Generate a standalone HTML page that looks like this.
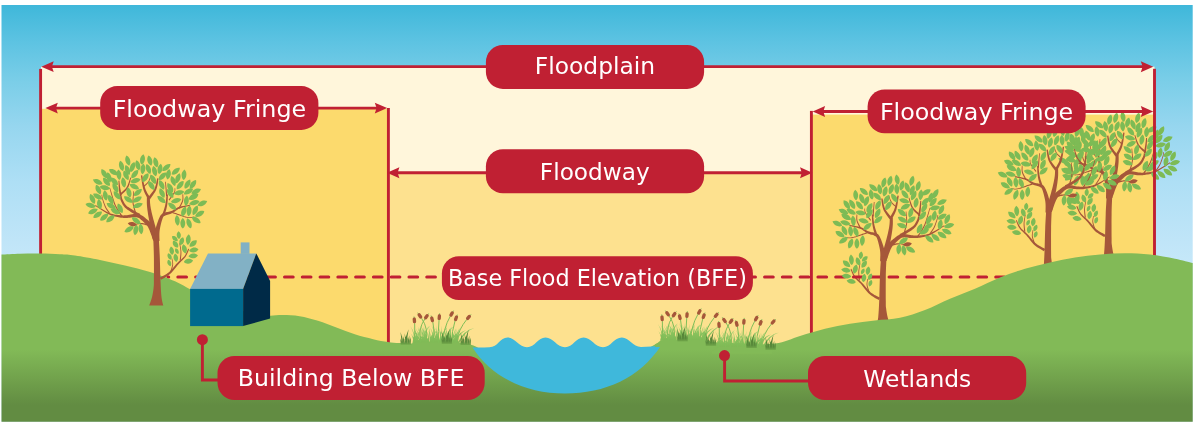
<!DOCTYPE html>
<html lang="en">
<head>
<meta charset="utf-8">
<title>Floodplain diagram</title>
<style>
html,body{margin:0;padding:0;background:#fff;}
body{width:1200px;height:424px;overflow:hidden;}
svg{display:block;}
.labels{filter:opacity(1);}
</style>
</head>
<body>
<svg width="1200" height="424" viewBox="0 0 1200 424">
<defs>
<linearGradient id="sky" x1="0" y1="5" x2="0" y2="265" gradientUnits="userSpaceOnUse">
<stop offset="0.0000" stop-color="#3fb7da"/>
<stop offset="0.0192" stop-color="#43b9db"/>
<stop offset="0.1423" stop-color="#5dc3e2"/>
<stop offset="0.2962" stop-color="#7bcee8"/>
<stop offset="0.4654" stop-color="#96d6ef"/>
<stop offset="0.6808" stop-color="#aedff5"/>
<stop offset="0.9115" stop-color="#c0e5f8"/>
<stop offset="1.0000" stop-color="#c6e8f9"/>
</linearGradient>
<linearGradient id="grass" x1="0" y1="340" x2="0" y2="405" gradientUnits="userSpaceOnUse">
<stop offset="0" stop-color="#82ba57"/>
<stop offset="0.15" stop-color="#82ba57"/>
<stop offset="1" stop-color="#628c42"/>
</linearGradient>
<path id="lf" d="M0,-5.3 C2.1,-3.4 2.7,-1 2.3,1.2 C2,3 1.2,4.4 0,5.3 C-1.2,4.4 -2,3 -2.3,1.2 C-2.7,-1 -2.1,-3.4 0,-5.3 Z"/>
<g id="treeSub" fill="#a5573a">
<path d="M161.06,279.79 L161.75,279.37 L162.69,278.84 L163.82,278.20 L165.09,277.47 L166.44,276.66 L167.79,275.77 L169.11,274.83 L170.32,273.83 L171.44,272.74 L172.53,271.55 L173.59,270.29 L174.62,268.99 L175.62,267.69 L176.60,266.43 L177.56,265.24 L178.49,264.15 L179.41,263.16 L180.34,262.23 L181.27,261.34 L182.19,260.47 L183.08,259.61 L183.93,258.74 L184.74,257.84 L185.47,256.89 L186.13,255.85 L186.74,254.73 L187.29,253.59 L187.78,252.46 L188.22,251.39 L188.59,250.43 L188.91,249.63 L189.16,249.04 L188.29,248.65 L188.01,249.25 L187.66,250.04 L187.25,250.98 L186.78,252.01 L186.26,253.10 L185.69,254.18 L185.08,255.20 L184.44,256.13 L183.73,256.98 L182.95,257.79 L182.11,258.59 L181.20,259.40 L180.25,260.23 L179.27,261.10 L178.27,262.02 L177.27,263.02 L176.26,264.12 L175.23,265.30 L174.20,266.54 L173.15,267.79 L172.09,269.02 L171.03,270.19 L169.97,271.27 L168.92,272.21 L167.80,273.06 L166.55,273.89 L165.24,274.68 L163.92,275.41 L162.66,276.07 L161.51,276.66 L160.53,277.17 L159.79,277.57 Z"/>
<path d="M180.78,260.34 L180.84,259.69 L180.94,258.82 L181.05,257.78 L181.17,256.62 L181.28,255.39 L181.36,254.14 L181.40,252.92 L181.38,251.78 L181.29,250.63 L181.13,249.42 L180.93,248.17 L180.71,246.95 L180.48,245.80 L180.27,244.76 L180.09,243.90 L179.97,243.25 L179.33,243.36 L179.43,244.02 L179.59,244.89 L179.77,245.93 L179.97,247.08 L180.16,248.30 L180.33,249.52 L180.45,250.71 L180.51,251.81 L180.49,252.90 L180.42,254.08 L180.31,255.31 L180.17,256.51 L180.02,257.66 L179.88,258.69 L179.77,259.57 L179.69,260.23 Z"/>
<path d="M171.09,272.24 L171.26,271.67 L171.51,270.91 L171.81,269.98 L172.14,268.96 L172.46,267.88 L172.75,266.80 L172.98,265.76 L173.11,264.81 L173.14,263.90 L173.09,262.98 L172.98,262.06 L172.83,261.18 L172.67,260.36 L172.51,259.64 L172.38,259.04 L172.30,258.58 L171.66,258.68 L171.73,259.16 L171.84,259.77 L171.97,260.50 L172.10,261.30 L172.22,262.16 L172.30,263.03 L172.32,263.90 L172.27,264.72 L172.11,265.59 L171.86,266.57 L171.55,267.60 L171.20,268.65 L170.85,269.65 L170.52,270.56 L170.24,271.33 L170.04,271.91 Z"/>
</g>
<g id="treeMain">
<g fill="#a5573a">
<path d="M158.92,239.32 L158.67,238.41 L158.33,237.21 L157.93,235.78 L157.49,234.18 L157.02,232.49 L156.54,230.75 L156.07,229.05 L155.63,227.43 L155.19,225.84 L154.73,224.20 L154.26,222.53 L153.79,220.86 L153.34,219.21 L152.91,217.60 L152.51,216.06 L152.15,214.60 L151.83,213.22 L151.54,211.89 L151.26,210.62 L151.02,209.39 L150.79,208.20 L150.59,207.04 L150.42,205.92 L150.27,204.84 L150.15,203.76 L150.06,202.65 L150.00,201.54 L149.96,200.46 L149.94,199.46 L149.92,198.56 L149.91,197.78 L149.90,197.19 L146.90,197.21 L146.90,197.79 L146.88,198.54 L146.86,199.45 L146.84,200.49 L146.83,201.60 L146.84,202.78 L146.87,203.98 L146.93,205.16 L147.03,206.32 L147.14,207.51 L147.28,208.72 L147.43,209.96 L147.61,211.25 L147.80,212.58 L148.01,213.96 L148.25,215.40 L148.51,216.92 L148.80,218.52 L149.12,220.19 L149.46,221.89 L149.80,223.60 L150.14,225.30 L150.46,226.96 L150.77,228.57 L151.09,230.21 L151.42,231.95 L151.76,233.71 L152.09,235.44 L152.39,237.07 L152.67,238.53 L152.90,239.75 L153.08,240.68 Z"/>
<path d="M150.15,197.72 L149.75,197.01 L149.20,196.11 L148.55,195.07 L147.85,193.90 L147.13,192.64 L146.43,191.31 L145.79,189.96 L145.25,188.60 L144.77,187.08 L144.30,185.30 L143.85,183.37 L143.43,181.40 L143.05,179.50 L142.71,177.77 L142.42,176.31 L142.20,175.24 L140.92,175.47 L141.08,176.54 L141.29,178.01 L141.53,179.76 L141.81,181.69 L142.12,183.70 L142.47,185.70 L142.86,187.57 L143.29,189.23 L143.80,190.76 L144.40,192.25 L145.06,193.70 L145.74,195.06 L146.40,196.30 L146.99,197.39 L147.47,198.29 L147.82,198.98 Z"/>
<path d="M150.05,199.13 L150.55,198.41 L151.25,197.46 L152.09,196.30 L153.02,194.99 L153.97,193.60 L154.89,192.16 L155.71,190.71 L156.37,189.31 L156.87,187.87 L157.27,186.32 L157.59,184.73 L157.84,183.16 L158.04,181.68 L158.20,180.35 L158.34,179.24 L158.47,178.42 L157.19,178.18 L157.01,179.02 L156.80,180.13 L156.56,181.44 L156.27,182.88 L155.94,184.38 L155.55,185.87 L155.09,187.28 L154.58,188.52 L153.92,189.72 L153.09,191.00 L152.14,192.31 L151.14,193.60 L150.16,194.81 L149.25,195.91 L148.48,196.85 L147.92,197.56 Z"/>
<path d="M144.06,186.96 L144.42,186.60 L144.93,186.13 L145.55,185.57 L146.23,184.93 L146.93,184.25 L147.61,183.53 L148.23,182.80 L148.76,182.08 L149.19,181.32 L149.58,180.47 L149.92,179.60 L150.22,178.72 L150.49,177.89 L150.71,177.14 L150.90,176.51 L151.06,176.05 L150.45,175.83 L150.27,176.30 L150.06,176.92 L149.81,177.66 L149.52,178.47 L149.19,179.32 L148.84,180.15 L148.45,180.92 L148.03,181.60 L147.54,182.23 L146.93,182.89 L146.26,183.56 L145.55,184.20 L144.86,184.80 L144.23,185.34 L143.70,185.80 L143.30,186.16 Z"/>
<path d="M158.27,236.85 L157.86,235.97 L157.31,234.74 L156.64,233.24 L155.89,231.58 L155.09,229.86 L154.26,228.18 L153.43,226.61 L152.63,225.25 L151.85,224.12 L151.08,223.14 L150.31,222.27 L149.53,221.49 L148.76,220.78 L147.98,220.13 L147.19,219.50 L146.39,218.88 L145.58,218.23 L144.73,217.53 L143.82,216.80 L142.85,216.08 L141.79,215.38 L140.65,214.76 L139.41,214.25 L138.06,213.89 L136.61,213.74 L135.11,213.79 L133.62,213.97 L132.14,214.22 L130.70,214.51 L129.34,214.78 L128.09,215.00 L126.99,215.14 L125.99,215.22 L125.09,215.29 L124.28,215.34 L123.54,215.38 L122.80,215.39 L122.03,215.37 L121.16,215.32 L120.16,215.22 L119.02,215.09 L117.85,214.98 L116.63,214.84 L115.37,214.66 L114.06,214.43 L112.70,214.11 L111.29,213.69 L109.81,213.14 L108.13,212.38 L106.20,211.38 L104.14,210.23 L102.04,209.00 L100.03,207.79 L98.20,206.67 L96.67,205.72 L95.54,205.04 L95.12,205.72 L96.22,206.43 L97.72,207.42 L99.49,208.62 L101.46,209.93 L103.50,211.27 L105.53,212.56 L107.45,213.69 L109.15,214.59 L110.70,215.27 L112.19,215.82 L113.62,216.25 L115.00,216.59 L116.31,216.86 L117.55,217.08 L118.72,217.28 L119.84,217.47 L120.89,217.65 L121.83,217.78 L122.70,217.86 L123.53,217.90 L124.34,217.92 L125.19,217.92 L126.10,217.91 L127.17,217.91 L128.42,217.84 L129.78,217.70 L131.19,217.52 L132.60,217.35 L133.97,217.22 L135.26,217.17 L136.39,217.21 L137.32,217.38 L138.13,217.67 L138.93,218.08 L139.71,218.59 L140.48,219.20 L141.25,219.88 L142.03,220.61 L142.81,221.37 L143.61,222.12 L144.37,222.81 L145.05,223.45 L145.68,224.07 L146.25,224.68 L146.80,225.33 L147.32,226.03 L147.85,226.84 L148.37,227.75 L148.93,228.90 L149.54,230.34 L150.17,231.97 L150.80,233.67 L151.39,235.34 L151.92,236.87 L152.38,238.18 L152.73,239.15 Z"/>
<path d="M140.19,214.00 L139.84,213.82 L139.41,213.61 L138.91,213.36 L138.36,213.08 L137.73,212.76 L137.05,212.39 L136.30,211.97 L135.48,211.48 L134.52,210.92 L133.41,210.29 L132.21,209.60 L130.98,208.87 L129.75,208.12 L128.60,207.37 L127.57,206.63 L126.72,205.93 L126.02,205.22 L125.38,204.47 L124.82,203.69 L124.31,202.89 L123.85,202.09 L123.44,201.30 L123.06,200.55 L122.71,199.87 L122.43,199.27 L122.22,198.71 L122.06,198.17 L121.93,197.65 L121.84,197.16 L121.76,196.72 L121.69,196.31 L121.61,195.99 L119.75,196.37 L119.81,196.65 L119.85,197.01 L119.92,197.48 L120.00,198.03 L120.12,198.64 L120.29,199.31 L120.53,200.03 L120.83,200.74 L121.16,201.47 L121.52,202.25 L121.92,203.10 L122.39,203.99 L122.92,204.91 L123.54,205.85 L124.25,206.77 L125.07,207.66 L126.04,208.53 L127.15,209.40 L128.34,210.25 L129.59,211.09 L130.82,211.88 L132.01,212.63 L133.08,213.30 L134.00,213.89 L134.82,214.42 L135.59,214.90 L136.30,215.32 L136.95,215.69 L137.52,216.01 L138.01,216.28 L138.41,216.50 L138.73,216.68 Z"/>
<path d="M121.70,195.84 L121.58,195.20 L121.42,194.33 L121.23,193.31 L121.01,192.17 L120.80,190.99 L120.58,189.80 L120.39,188.67 L120.23,187.65 L120.09,186.68 L119.96,185.66 L119.83,184.64 L119.72,183.64 L119.62,182.70 L119.53,181.87 L119.45,181.16 L119.39,180.62 L118.44,180.70 L118.46,181.23 L118.49,181.94 L118.52,182.78 L118.55,183.73 L118.60,184.74 L118.65,185.78 L118.71,186.82 L118.78,187.82 L118.87,188.87 L118.99,190.02 L119.12,191.23 L119.25,192.44 L119.38,193.59 L119.50,194.62 L119.60,195.49 L119.67,196.14 Z"/>
<path d="M121.34,194.94 L121.83,194.46 L122.52,193.85 L123.36,193.10 L124.28,192.25 L125.25,191.31 L126.19,190.29 L127.05,189.22 L127.79,188.11 L128.40,186.88 L128.94,185.48 L129.44,183.99 L129.88,182.48 L130.27,181.04 L130.60,179.73 L130.88,178.64 L131.11,177.84 L130.30,177.58 L130.03,178.38 L129.68,179.46 L129.27,180.75 L128.81,182.15 L128.30,183.60 L127.75,185.01 L127.16,186.29 L126.55,187.36 L125.86,188.30 L125.02,189.22 L124.09,190.12 L123.13,190.96 L122.19,191.74 L121.32,192.43 L120.57,193.03 L120.03,193.50 Z"/>
<path d="M122.41,215.88 L121.88,215.06 L121.15,213.97 L120.29,212.69 L119.34,211.26 L118.37,209.75 L117.43,208.23 L116.57,206.75 L115.86,205.39 L115.25,204.02 L114.68,202.54 L114.14,201.02 L113.65,199.51 L113.22,198.07 L112.83,196.78 L112.51,195.70 L112.25,194.87 L111.43,195.13 L111.68,195.94 L111.98,197.03 L112.34,198.33 L112.75,199.78 L113.22,201.32 L113.73,202.88 L114.29,204.41 L114.90,205.84 L115.61,207.27 L116.46,208.80 L117.39,210.36 L118.34,211.91 L119.26,213.36 L120.10,214.66 L120.80,215.76 L121.31,216.58 Z"/>
<path d="M112.27,194.92 L112.12,194.42 L111.91,193.71 L111.65,192.87 L111.38,191.95 L111.09,191.02 L110.83,190.14 L110.59,189.38 L110.40,188.81 L110.26,188.41 L110.13,188.11 L110.03,187.90 L109.93,187.75 L109.84,187.65 L109.78,187.59 L109.77,187.59 L109.75,187.56 L109.21,187.91 L109.27,188.00 L109.34,188.07 L109.37,188.10 L109.40,188.13 L109.44,188.21 L109.52,188.38 L109.62,188.64 L109.74,189.02 L109.91,189.59 L110.12,190.35 L110.36,191.23 L110.61,192.16 L110.85,193.09 L111.08,193.95 L111.27,194.66 L111.41,195.17 Z"/>
<path d="M136.00,212.53 L135.80,211.79 L135.50,210.78 L135.15,209.58 L134.76,208.27 L134.39,206.90 L134.04,205.55 L133.75,204.29 L133.56,203.19 L133.46,202.18 L133.43,201.15 L133.44,200.14 L133.49,199.16 L133.56,198.25 L133.63,197.44 L133.69,196.75 L133.73,196.21 L132.88,196.15 L132.84,196.67 L132.76,197.35 L132.67,198.17 L132.58,199.09 L132.51,200.10 L132.47,201.15 L132.49,202.24 L132.57,203.32 L132.75,204.48 L133.02,205.79 L133.34,207.17 L133.70,208.56 L134.05,209.89 L134.38,211.10 L134.65,212.10 L134.85,212.84 Z"/>
<path d="M133.75,196.26 L133.77,195.84 L133.80,195.25 L133.83,194.54 L133.87,193.78 L133.90,193.01 L133.93,192.30 L133.96,191.71 L133.98,191.30 L133.33,191.25 L133.29,191.67 L133.23,192.25 L133.17,192.96 L133.09,193.72 L133.02,194.49 L132.95,195.19 L132.89,195.78 L132.85,196.19 Z"/>
<path d="M109.94,212.97 L109.60,212.48 L109.15,211.85 L108.62,211.10 L108.03,210.26 L107.42,209.37 L106.82,208.44 L106.26,207.50 L105.78,206.59 L105.33,205.61 L104.88,204.50 L104.44,203.32 L104.02,202.13 L103.63,200.98 L103.28,199.94 L102.99,199.07 L102.76,198.42 L102.05,198.66 L102.26,199.31 L102.53,200.18 L102.86,201.23 L103.23,202.39 L103.63,203.61 L104.05,204.82 L104.49,205.96 L104.93,207.00 L105.42,207.96 L105.98,208.94 L106.57,209.91 L107.17,210.84 L107.75,211.70 L108.27,212.46 L108.71,213.10 L109.02,213.58 Z"/>
<path d="M102.80,198.52 L102.75,198.21 L102.67,197.76 L102.57,197.22 L102.47,196.64 L102.37,196.06 L102.27,195.53 L102.19,195.08 L102.14,194.76 L101.49,194.86 L101.54,195.18 L101.60,195.63 L101.67,196.17 L101.75,196.75 L101.83,197.34 L101.91,197.88 L101.97,198.33 L102.01,198.65 Z"/>
<path d="M159.50,241.11 L159.49,240.24 L159.46,239.11 L159.42,237.81 L159.39,236.37 L159.38,234.86 L159.41,233.32 L159.50,231.82 L159.65,230.39 L159.89,228.90 L160.21,227.24 L160.59,225.51 L161.01,223.76 L161.45,222.07 L161.90,220.51 L162.34,219.16 L162.74,218.07 L163.08,217.30 L163.36,216.79 L163.56,216.50 L163.73,216.33 L163.94,216.18 L164.28,216.00 L164.79,215.76 L165.38,215.45 L165.99,215.16 L166.69,214.91 L167.50,214.67 L168.40,214.44 L169.36,214.18 L170.36,213.89 L171.36,213.55 L172.35,213.12 L173.28,212.61 L174.15,212.03 L174.97,211.42 L175.77,210.81 L176.57,210.20 L177.41,209.63 L178.29,209.10 L179.26,208.63 L180.43,208.19 L181.81,207.76 L183.33,207.34 L184.88,206.95 L186.38,206.60 L187.73,206.29 L188.87,206.04 L189.69,205.83 L190.17,205.71 L190.39,205.64 L190.10,204.64 L189.89,204.69 L189.61,204.75 L189.33,204.81 L189.09,204.86 L188.98,204.89 L189.18,205.87 L189.29,205.85 L189.53,205.80 L189.82,205.74 L190.09,205.69 L190.26,205.66 L190.05,204.66 L189.91,204.70 L189.46,204.80 L188.64,204.96 L187.51,205.17 L186.13,205.41 L184.61,205.68 L183.01,205.98 L181.44,206.32 L179.96,206.68 L178.66,207.08 L177.52,207.53 L176.48,208.06 L175.53,208.63 L174.64,209.20 L173.80,209.76 L173.00,210.27 L172.21,210.71 L171.43,211.07 L170.60,211.36 L169.71,211.59 L168.79,211.78 L167.85,211.95 L166.91,212.12 L165.97,212.32 L165.06,212.57 L164.24,212.87 L163.61,213.14 L163.09,213.34 L162.54,213.58 L161.95,213.92 L161.36,214.41 L160.83,215.03 L160.32,215.79 L159.81,216.74 L159.24,217.93 L158.65,219.36 L158.03,220.96 L157.41,222.68 L156.82,224.46 L156.26,226.24 L155.76,227.97 L155.35,229.61 L155.02,231.23 L154.77,232.92 L154.58,234.59 L154.44,236.20 L154.33,237.70 L154.25,239.01 L154.17,240.09 L154.10,240.89 Z"/>
<path d="M164.50,215.43 L164.65,214.92 L164.86,214.25 L165.11,213.44 L165.38,212.53 L165.67,211.58 L165.95,210.62 L166.20,209.69 L166.42,208.83 L166.59,208.06 L166.76,207.32 L166.90,206.60 L167.04,205.88 L167.16,205.15 L167.27,204.40 L167.37,203.62 L167.47,202.78 L167.56,201.82 L167.63,200.74 L167.70,199.60 L167.76,198.45 L167.81,197.35 L167.84,196.38 L167.86,195.58 L167.87,195.00 L167.83,194.60 L166.62,194.21 L166.40,194.61 L166.31,194.92 L166.22,195.27 L166.15,195.60 L166.09,195.86 L166.05,195.99 L167.30,196.37 L167.35,196.20 L167.43,195.92 L167.52,195.60 L167.61,195.30 L167.68,195.08 L167.60,195.19 L166.48,194.87 L166.47,195.00 L166.44,195.52 L166.38,196.30 L166.30,197.26 L166.20,198.33 L166.08,199.47 L165.95,200.59 L165.82,201.64 L165.69,202.55 L165.56,203.35 L165.42,204.10 L165.28,204.81 L165.13,205.49 L164.96,206.17 L164.79,206.85 L164.60,207.56 L164.39,208.29 L164.14,209.09 L163.85,209.97 L163.53,210.89 L163.21,211.81 L162.89,212.69 L162.60,213.49 L162.35,214.16 L162.17,214.67 Z"/>
<path d="M167.27,196.18 L167.15,194.97 L166.99,193.26 L166.79,191.21 L166.57,188.99 L166.35,186.78 L166.15,184.73 L165.99,183.02 L165.87,181.81 L165.12,181.87 L165.20,183.08 L165.32,184.80 L165.45,186.85 L165.60,189.07 L165.75,191.30 L165.88,193.35 L166.00,195.07 L166.08,196.28 Z"/>
<path d="M169.48,200.44 L169.91,199.82 L170.52,198.97 L171.24,197.94 L172.04,196.82 L172.83,195.66 L173.58,194.54 L174.22,193.51 L174.69,192.63 L175.00,191.87 L175.19,191.16 L175.29,190.51 L175.32,189.92 L175.30,189.40 L175.27,188.97 L175.25,188.62 L175.25,188.34 L174.60,188.31 L174.59,188.62 L174.60,189.00 L174.62,189.43 L174.61,189.90 L174.57,190.42 L174.47,190.99 L174.28,191.61 L173.99,192.28 L173.51,193.08 L172.86,194.06 L172.09,195.14 L171.26,196.26 L170.44,197.35 L169.68,198.35 L169.04,199.19 L168.59,199.80 Z"/>
<path d="M172.29,213.14 L172.79,213.30 L173.47,213.52 L174.28,213.78 L175.17,214.07 L176.11,214.37 L177.06,214.68 L177.97,214.97 L178.79,215.24 L179.56,215.50 L180.32,215.77 L181.08,216.04 L181.83,216.31 L182.57,216.58 L183.31,216.82 L184.03,217.05 L184.74,217.24 L185.43,217.42 L186.11,217.58 L186.78,217.72 L187.44,217.84 L188.09,217.95 L188.73,218.02 L189.37,218.07 L189.99,218.08 L190.64,218.04 L191.30,217.94 L191.96,217.81 L192.59,217.65 L193.18,217.49 L193.70,217.34 L194.14,217.21 L194.46,217.13 L194.31,216.50 L193.97,216.58 L193.52,216.69 L193.00,216.83 L192.42,216.98 L191.81,217.11 L191.18,217.22 L190.57,217.30 L189.98,217.32 L189.41,217.30 L188.82,217.24 L188.21,217.15 L187.59,217.04 L186.96,216.90 L186.31,216.75 L185.65,216.57 L184.98,216.39 L184.29,216.18 L183.60,215.95 L182.89,215.69 L182.16,215.42 L181.42,215.13 L180.67,214.84 L179.90,214.55 L179.13,214.26 L178.31,213.97 L177.40,213.65 L176.46,213.32 L175.53,213.00 L174.64,212.69 L173.84,212.41 L173.17,212.18 L172.67,212.00 Z"/>
<path d="M179.59,208.48 L179.88,207.91 L180.28,207.14 L180.77,206.21 L181.30,205.18 L181.84,204.09 L182.34,203.01 L182.76,201.98 L183.07,201.03 L183.26,200.13 L183.37,199.23 L183.40,198.33 L183.39,197.48 L183.35,196.70 L183.30,196.00 L183.26,195.43 L183.26,195.00 L182.41,195.00 L182.40,195.46 L182.43,196.05 L182.46,196.74 L182.48,197.50 L182.47,198.31 L182.42,199.14 L182.30,199.97 L182.11,200.76 L181.81,201.61 L181.38,202.58 L180.87,203.62 L180.32,204.66 L179.77,205.67 L179.26,206.58 L178.83,207.36 L178.52,207.93 Z"/>
<path d="M183.28,195.05 L183.27,194.98 L183.25,194.88 L183.24,194.76 L183.22,194.63 L183.20,194.51 L183.18,194.39 L183.17,194.29 L183.16,194.22 L182.51,194.22 L182.49,194.29 L182.48,194.39 L182.46,194.51 L182.44,194.63 L182.42,194.76 L182.41,194.88 L182.39,194.98 L182.38,195.05 Z"/>
<path d="M147.32,224.00 L147.05,223.94 L146.70,223.85 L146.28,223.74 L145.80,223.62 L145.28,223.50 L144.75,223.38 L144.21,223.28 L143.69,223.20 L143.19,223.14 L142.68,223.08 L142.15,223.03 L141.61,222.99 L141.06,222.97 L140.51,222.96 L139.97,222.97 L139.42,223.01 L138.84,223.09 L138.23,223.21 L137.62,223.35 L137.02,223.51 L136.46,223.67 L135.96,223.82 L135.54,223.94 L135.23,224.02 L135.43,224.85 L135.75,224.78 L136.18,224.68 L136.69,224.56 L137.25,224.44 L137.84,224.31 L138.42,224.21 L138.99,224.13 L139.50,224.09 L139.99,224.08 L140.49,224.09 L141.00,224.13 L141.51,224.18 L142.01,224.25 L142.51,224.32 L143.01,224.40 L143.48,224.49 L143.95,224.58 L144.44,224.71 L144.94,224.84 L145.43,224.99 L145.89,225.13 L146.30,225.26 L146.66,225.37 L146.93,225.45 Z"/>
<path d="M149.20,305.50 C149.67,304.13 151.27,300.22 152.00,297.30 C152.73,294.38 153.28,290.75 153.60,288.00 C153.92,285.25 153.85,285.93 153.90,280.80 C153.95,275.67 154.00,264.00 153.90,257.20 C153.80,250.40 153.53,243.53 153.30,240.00 C153.07,236.47 152.63,236.67 152.50,236.00 L158.80,236.00 C158.82,236.67 158.73,236.47 158.90,240.00 C159.07,243.53 159.53,250.40 159.80,257.20 C160.07,264.00 160.22,274.12 160.50,280.80 C160.78,287.48 161.03,293.18 161.50,297.30 C161.97,301.42 163.00,304.13 163.30,305.50 Z"/>
</g>
<g fill="#7dbb55">
<use href="#lf" transform="translate(129.1,229.4) rotate(60)"/>
<use href="#lf" transform="translate(135.8,230.0) rotate(10)"/>
<use href="#lf" transform="translate(140.9,228.9) rotate(-5)"/>
<use href="#lf" transform="translate(127.8,160.6) rotate(-15)"/>
<use href="#lf" transform="translate(142.5,159.4) rotate(10)"/>
<use href="#lf" transform="translate(149.8,160.6) rotate(-15)"/>
<use href="#lf" transform="translate(155.8,162.4) rotate(-15)"/>
<use href="#lf" transform="translate(121.5,165.9) rotate(-15)"/>
<use href="#lf" transform="translate(132.5,167.1) rotate(20)"/>
<use href="#lf" transform="translate(137.8,165.3) rotate(-15)"/>
<use href="#lf" transform="translate(142.9,168.9) rotate(5)"/>
<use href="#lf" transform="translate(148.4,168.9) rotate(-20)"/>
<use href="#lf" transform="translate(154.6,171.2) rotate(-15)"/>
<use href="#lf" transform="translate(160.0,168.9) rotate(10)"/>
<use href="#lf" transform="translate(166.4,167.5) rotate(50)"/>
<use href="#lf" transform="translate(175.8,171.2) rotate(50)"/>
<use href="#lf" transform="translate(184.0,174.8) rotate(5)"/>
<use href="#lf" transform="translate(168.4,174.2) rotate(10)"/>
<use href="#lf" transform="translate(177.9,178.3) rotate(20)"/>
<use href="#lf" transform="translate(173.2,180.9) rotate(-20)"/>
<use href="#lf" transform="translate(145.4,177.7) rotate(35)"/>
<use href="#lf" transform="translate(153.1,179.2) rotate(-30)"/>
<use href="#lf" transform="translate(162.5,176.2) rotate(45)"/>
<use href="#lf" transform="translate(151.3,185.4) rotate(-35)"/>
<use href="#lf" transform="translate(161.6,184.8) rotate(-25)"/>
<use href="#lf" transform="translate(170.2,187.5) rotate(-30)"/>
<use href="#lf" transform="translate(180.2,185.1) rotate(40)"/>
<use href="#lf" transform="translate(187.5,184.0) rotate(30)"/>
<use href="#lf" transform="translate(193.0,184.4) rotate(35)"/>
<use href="#lf" transform="translate(196.2,191.3) rotate(65)"/>
<use href="#lf" transform="translate(188.5,191.5) rotate(60)"/>
<use href="#lf" transform="translate(179.1,192.7) rotate(80)"/>
<use href="#lf" transform="translate(170.2,193.4) rotate(-35)"/>
<use href="#lf" transform="translate(162.0,193.0) rotate(-25)"/>
<use href="#lf" transform="translate(193.2,196.6) rotate(60)"/>
<use href="#lf" transform="translate(161.4,199.5) rotate(-50)"/>
<use href="#lf" transform="translate(176.1,200.7) rotate(75)"/>
<use href="#lf" transform="translate(172.2,206.2) rotate(-50)"/>
<use href="#lf" transform="translate(186.4,200.7) rotate(5)"/>
<use href="#lf" transform="translate(193.8,196.8) rotate(60)"/>
<use href="#lf" transform="translate(194.4,202.7) rotate(75)"/>
<use href="#lf" transform="translate(202.4,203.3) rotate(65)"/>
<use href="#lf" transform="translate(183.8,211.5) rotate(20)"/>
<use href="#lf" transform="translate(189.1,210.9) rotate(5)"/>
<use href="#lf" transform="translate(195.3,210.3) rotate(25)"/>
<use href="#lf" transform="translate(199.7,213.9) rotate(60)"/>
<use href="#lf" transform="translate(196.2,220.0) rotate(-55)"/>
<use href="#lf" transform="translate(189.1,223.3) rotate(-20)"/>
<use href="#lf" transform="translate(182.8,223.3) rotate(0)"/>
<use href="#lf" transform="translate(177.3,220.4) rotate(-5)"/>
<use href="#lf" transform="translate(178.8,235.1) rotate(-5) scale(0.861,0.73)"/>
<use href="#lf" transform="translate(174.9,238.6) rotate(-50) scale(0.826,0.7)"/>
<use href="#lf" transform="translate(175.5,244.1) rotate(-35) scale(0.944,0.8)"/>
<use href="#lf" transform="translate(181.7,241.2) rotate(18) scale(0.944,0.8)"/>
<use href="#lf" transform="translate(188.3,239.6) rotate(5)"/>
<use href="#lf" transform="translate(193.2,243.5) rotate(50) scale(1.000,0.9)"/>
<use href="#lf" transform="translate(171.7,250.6) rotate(-10) scale(0.944,0.8)"/>
<use href="#lf" transform="translate(176.9,251.2) rotate(-25) scale(0.708,0.6)"/>
<use href="#lf" transform="translate(184.4,248.8) rotate(-15) scale(1.000,0.9)"/>
<use href="#lf" transform="translate(193.8,250.0) rotate(80) scale(1.000,0.9)"/>
<use href="#lf" transform="translate(169.6,256.5) rotate(-25) scale(0.802,0.68)"/>
<use href="#lf" transform="translate(175.8,257.7) rotate(-10) scale(0.944,0.8)"/>
<use href="#lf" transform="translate(193.2,255.9) rotate(85) scale(1.000,0.9)"/>
<use href="#lf" transform="translate(169.3,263.0) rotate(-20) scale(0.767,0.65)"/>
<use href="#lf" transform="translate(188.5,261.2) rotate(80) scale(1.000,0.88)"/>
<use href="#lf" transform="translate(104.2,173.5) rotate(-30)"/>
<use href="#lf" transform="translate(113.6,172.1) rotate(-60)"/>
<use href="#lf" transform="translate(108.9,177.3) rotate(-15)"/>
<use href="#lf" transform="translate(118.9,174.7) rotate(-5)"/>
<use href="#lf" transform="translate(126.0,175.3) rotate(-25)"/>
<use href="#lf" transform="translate(134.8,174.1) rotate(40)"/>
<use href="#lf" transform="translate(114.2,181.2) rotate(-45)"/>
<use href="#lf" transform="translate(106.5,181.8) rotate(-40)"/>
<use href="#lf" transform="translate(97.7,181.8) rotate(-65)"/>
<use href="#lf" transform="translate(123.6,182.4) rotate(-10)"/>
<use href="#lf" transform="translate(135.4,180.6) rotate(75)"/>
<use href="#lf" transform="translate(104.8,187.7) rotate(-80)"/>
<use href="#lf" transform="translate(98.3,189.5) rotate(-25)"/>
<use href="#lf" transform="translate(115.4,187.7) rotate(-30)"/>
<use href="#lf" transform="translate(134.2,186.5) rotate(-65)"/>
<use href="#lf" transform="translate(128.9,192.4) rotate(-15)"/>
<use href="#lf" transform="translate(137.8,192.4) rotate(50)"/>
<use href="#lf" transform="translate(105.4,195.4) rotate(-10)"/>
<use href="#lf" transform="translate(117.1,195.4) rotate(-40)"/>
<use href="#lf" transform="translate(97.7,196.5) rotate(-60)"/>
<use href="#lf" transform="translate(92.4,198.9) rotate(-25)"/>
<use href="#lf" transform="translate(110.7,199.5) rotate(-25)"/>
<use href="#lf" transform="translate(128.3,199.5) rotate(-55)"/>
<use href="#lf" transform="translate(137.2,199.5) rotate(60)"/>
<use href="#lf" transform="translate(99.5,204.2) rotate(-10)"/>
<use href="#lf" transform="translate(90.6,205.4) rotate(-75)"/>
<use href="#lf" transform="translate(111.2,206.0) rotate(-60)"/>
<use href="#lf" transform="translate(137.8,205.4) rotate(70)"/>
<use href="#lf" transform="translate(120.1,208.3) rotate(-25)"/>
<use href="#lf" transform="translate(93.0,211.3) rotate(65)"/>
<use href="#lf" transform="translate(115.4,211.3) rotate(-65)"/>
<use href="#lf" transform="translate(97.7,214.8) rotate(55)"/>
<use href="#lf" transform="translate(104.2,217.2) rotate(50)"/>
<use href="#lf" transform="translate(110.4,218.8) rotate(50)"/>
<use href="#lf" transform="translate(127.5,170.0) rotate(-20)"/>
<use href="#lf" transform="translate(136.2,220.6) rotate(-55)"/>
</g>
<use href="#lf" fill="#a5573a" transform="translate(132.2,224.1) rotate(-80) scale(0.85)"/>
</g><g id="reed"><linearGradient id="bladeG" gradientUnits="userSpaceOnUse" x1="0" y1="4.899999999999999" x2="0" y2="21.9"><stop offset="0" stop-color="#9bd074" stop-opacity="0.8"/><stop offset="0.55" stop-color="#86c25c" stop-opacity="0.97"/><stop offset="1" stop-color="#7fb955" stop-opacity="1"/></linearGradient>
<path d="M-1.91,22.50 Q-0.64,13.25 3.07,6.98 Q0.16,13.25 -0.21,22.50 Z M-0.98,22.50 Q0.55,13.26 5.78,7.00 Q1.35,13.26 0.72,22.50 Z M-0.92,22.50 Q0.66,14.76 6.13,9.74 Q1.46,14.76 0.78,22.50 Z M0.22,22.50 Q0.05,12.37 -4.35,5.39 Q0.85,12.37 1.92,22.50 Z M0.79,22.50 Q1.53,15.97 2.25,11.93 Q2.33,15.97 2.49,22.50 Z M1.57,22.50 Q1.62,17.25 -1.55,14.27 Q2.42,17.25 3.27,22.50 Z M2.07,22.50 Q3.27,12.29 6.64,5.24 Q4.07,12.29 3.77,22.50 Z M2.68,22.50 Q2.58,12.94 -1.52,6.43 Q3.38,12.94 4.38,22.50 Z M3.71,22.50 Q3.31,16.63 -2.42,13.13 Q4.11,16.63 5.41,22.50 Z M4.59,22.50 Q4.64,16.17 1.46,12.31 Q5.44,16.17 6.29,22.50 Z M5.37,22.50 Q5.58,12.53 3.27,5.68 Q6.38,12.53 7.07,22.50 Z M6.06,22.50 Q7.08,14.36 9.40,9.01 Q7.88,14.36 7.76,22.50 Z M6.23,22.50 Q7.28,12.15 9.75,4.99 Q8.08,12.15 7.93,22.50 Z M7.47,22.50 Q7.70,12.41 5.50,5.46 Q8.50,12.41 9.17,22.50 Z M7.75,22.50 Q7.65,16.41 3.64,12.74 Q8.45,16.41 9.45,22.50 Z M8.24,22.50 Q9.11,15.67 10.54,11.39 Q9.91,15.67 9.94,22.50 Z M8.90,22.50 Q9.21,13.60 7.48,7.62 Q10.01,13.60 10.60,22.50 Z M9.82,22.50 Q10.43,12.82 10.40,6.21 Q11.23,12.82 11.52,22.50 Z M10.53,22.50 Q11.61,14.68 14.24,9.59 Q12.41,14.68 12.23,22.50 Z M11.05,22.50 Q10.70,11.96 5.22,4.65 Q11.50,11.96 12.75,22.50 Z M12.24,22.50 Q11.88,12.68 6.34,5.95 Q12.68,12.68 13.94,22.50 Z M12.97,22.50 Q13.78,15.31 14.92,10.74 Q14.58,15.31 14.67,22.50 Z M13.13,22.50 Q13.11,17.07 9.51,13.93 Q13.91,17.07 14.83,22.50 Z M14.49,22.50 Q15.68,16.24 18.92,12.43 Q16.48,16.24 16.19,22.50 Z M15.18,22.50 Q15.50,12.14 13.85,4.98 Q16.30,12.14 16.88,22.50 Z M15.48,22.50 Q16.71,14.44 20.19,9.15 Q17.51,14.44 17.18,22.50 Z M16.01,22.50 Q17.28,13.21 21.02,6.92 Q18.08,13.21 17.71,22.50 Z M17.24,22.50 Q18.83,17.12 24.33,14.03 Q19.63,17.12 18.94,22.50 Z M17.40,22.50 Q18.28,15.45 19.80,10.99 Q19.08,15.45 19.10,22.50 Z M18.69,22.50 Q20.23,15.46 25.47,11.00 Q21.03,15.46 20.39,22.50 Z M19.13,22.50 Q19.39,15.61 17.41,11.28 Q20.19,15.61 20.83,22.50 Z M19.57,22.50 Q19.48,16.89 15.51,13.62 Q20.28,16.89 21.27,22.50 Z M20.63,22.50 Q20.57,11.84 16.75,4.43 Q21.37,11.84 22.33,22.50 Z M20.89,22.50 Q21.61,11.90 22.21,4.53 Q22.41,11.90 22.59,22.50 Z M21.84,22.50 Q22.69,16.02 24.01,12.03 Q23.49,16.02 23.54,22.50 Z M22.84,22.50 Q23.33,14.82 22.59,9.84 Q24.13,14.82 24.54,22.50 Z M23.00,22.50 Q22.67,12.29 17.31,5.24 Q23.47,12.29 24.70,22.50 Z M24.01,22.50 Q23.89,12.71 19.69,6.02 Q24.69,12.71 25.71,22.50 Z M24.88,22.50 Q25.81,12.10 27.56,4.90 Q26.61,12.10 26.58,22.50 Z M25.63,22.50 Q26.14,16.74 25.56,13.33 Q26.94,16.74 27.33,22.50 Z M25.88,22.50 Q26.10,12.68 23.86,5.95 Q26.90,12.68 27.58,22.50 Z M26.80,22.50 Q28.19,11.83 32.58,4.41 Q28.99,11.83 28.50,22.50 Z M27.87,22.50 Q28.49,14.83 28.55,9.86 Q29.29,14.83 29.57,22.50 Z M28.40,22.50 Q28.61,14.69 26.32,9.61 Q29.41,14.69 30.10,22.50 Z M28.87,22.50 Q29.26,16.52 28.00,12.93 Q30.06,16.52 30.57,22.50 Z M29.99,22.50 Q30.90,12.05 32.61,4.80 Q31.70,12.05 31.69,22.50 Z M30.34,22.50 Q30.13,15.46 25.44,11.02 Q30.93,15.46 32.04,22.50 Z M30.89,22.50 Q32.31,13.02 36.88,6.58 Q33.11,13.02 32.59,22.50 Z M31.65,22.50 Q32.88,13.00 36.35,6.54 Q33.68,13.00 33.35,22.50 Z M32.59,22.50 Q33.79,13.67 37.08,7.76 Q34.59,13.67 34.29,22.50 Z M33.06,22.50 Q33.25,13.45 30.84,7.36 Q34.05,13.45 34.76,22.50 Z M33.85,22.50 Q34.90,13.09 37.37,6.70 Q35.70,13.09 35.55,22.50 Z M34.42,22.50 Q35.38,12.12 37.36,4.94 Q36.18,12.12 36.12,22.50 Z M35.32,22.50 Q36.07,17.26 36.83,14.28 Q36.87,17.26 37.02,22.50 Z M35.80,22.50 Q36.37,13.63 36.13,7.68 Q37.17,13.63 37.50,22.50 Z M36.90,22.50 Q38.17,13.76 41.91,7.93 Q38.97,13.76 38.60,22.50 Z M37.27,22.50 Q38.42,13.78 41.45,7.96 Q39.22,13.78 38.97,22.50 Z M38.31,22.50 Q39.68,15.40 43.96,10.90 Q40.48,15.40 40.01,22.50 Z M39.04,22.50 Q40.69,13.54 46.56,7.52 Q41.49,13.54 40.74,22.50 Z M39.81,22.50 Q40.52,14.48 41.07,9.22 Q41.32,14.48 41.51,22.50 Z M39.95,22.50 Q41.52,12.72 46.93,6.03 Q42.32,12.72 41.65,22.50 Z M40.88,22.50 Q41.99,13.52 44.80,7.49 Q42.79,13.52 42.58,22.50 Z M41.76,22.50 Q43.00,16.38 46.53,12.68 Q43.80,16.38 43.46,22.50 Z M42.36,22.50 Q42.84,13.66 42.10,7.74 Q43.64,13.66 44.06,22.50 Z M43.20,22.50 Q49.60,9.00 60.00,7.50 Q50.60,10.50 44.80,22.50 Z M39.20,22.50 Q44.20,11.00 52.00,9.50 Q45.20,12.50 40.80,22.50 Z M29.20,22.50 Q33.50,7.50 40.00,6.00 Q34.50,9.00 30.80,22.50 Z M3.20,22.50 Q1.55,9.50 -3.00,8.00 Q2.55,11.00 4.80,22.50 Z M7.20,22.50 Q10.80,6.50 16.00,5.00 Q11.80,8.00 8.80,22.50 Z M19.20,22.50 Q17.90,7.50 14.00,6.00 Q18.90,9.00 20.80,22.50 Z M25.20,22.50 Q28.45,8.50 33.00,7.00 Q29.45,10.00 26.80,22.50 Z M35.20,22.50 Q39.50,12.50 46.00,11.00 Q40.50,14.00 36.80,22.50 Z M-0.80,22.50 Q-1.75,13.50 -5.00,12.00 Q-0.75,15.00 0.80,22.50 Z" fill="url(#bladeG)"/>
<path d="M-7,26.00 C-4,25.40 -3,22.20 1,21.80 L44,21.80 C48,22.20 50,24.30 53,26.00 L53,28.80 L-7,28.80 Z" fill="#82ba57"/>
<path d="M-0.31,-3.49 L0.25,2.89 Q1.12,12.76 -0.80,21.90 M3.49,-7.37 L7.16,-2.12 Q14.43,8.25 11.70,21.90 M14.01,-6.57 L10.34,-1.32 Q3.33,8.69 6.40,21.90 M16.79,-4.48 L18.45,1.70 Q21.18,11.90 18.60,21.90 M25.21,-6.69 L24.65,-0.31 Q23.63,11.31 23.90,21.90 M38.95,-9.43 L35.75,-3.89 Q28.93,7.92 28.70,21.90 M42.80,-5.39 L40.61,0.63 Q36.79,11.10 38.20,21.90 M56.35,-5.68 L52.24,-0.78 Q44.57,8.36 41.40,21.90" fill="none" stroke="#80be58" stroke-width="1" stroke-linecap="round"/>
<g fill="#a5573a"><rect x="-1.65" y="-2.90" width="3.3" height="5.8" rx="1.55" transform="rotate(-5 0 0)"/><rect x="3.85" y="-7.40" width="3.3" height="5.8" rx="1.55" transform="rotate(-35 5.5 -4.5)"/><rect x="10.35" y="-6.60" width="3.3" height="5.8" rx="1.55" transform="rotate(35 12.0 -3.7)"/><rect x="16.05" y="-4.00" width="3.3" height="5.8" rx="1.55" transform="rotate(-15 17.7 -1.1)"/><rect x="23.25" y="-6.10" width="3.3" height="5.8" rx="1.55" transform="rotate(5 24.9 -3.2)"/><rect x="35.55" y="-9.30" width="3.3" height="5.8" rx="1.55" transform="rotate(30 37.2 -6.4)"/><rect x="39.95" y="-5.00" width="3.3" height="5.8" rx="1.55" transform="rotate(20 41.6 -2.1)"/><rect x="52.45" y="-5.90" width="3.3" height="5.8" rx="1.55" transform="rotate(40 54.1 -3.0)"/></g></g><g id="tuft"><linearGradient id="tuftG" gradientUnits="userSpaceOnUse" x1="0" y1="-14" x2="0" y2="0.3"><stop offset="0" stop-color="#4f7c34"/><stop offset="0.8" stop-color="#598a3b"/><stop offset="1" stop-color="#72a84a"/></linearGradient><path d="M-5.2,0.3 L-4.6,-3.5 L-3.2,-6 L-1.5,-5 L0.5,-7.5 L2,-5.5 L3.4,-5.5 L4.6,-3.5 L5.2,0.3 Z" fill="#5b8b3d" fill-opacity="0.4"/><path d="M-4.20,0.3 Q-4.62,-6.20 -5.40,-12.40 Q-2.86,-6.20 -2.60,0.3 Z M-2.70,0.3 Q-2.88,-4.30 -3.00,-8.60 Q-1.34,-4.30 -1.30,0.3 Z M-1.60,0.3 Q-0.67,-7.50 2.70,-15.00 Q1.53,-7.50 0.40,0.3 Z M0.20,0.3 Q0.37,-5.00 1.30,-10.00 Q1.91,-5.00 1.60,0.3 Z M1.65,0.3 Q1.97,-4.50 3.40,-9.00 Q3.62,-4.50 3.15,0.3 Z M3.20,0.3 Q3.52,-3.60 4.90,-7.20 Q5.06,-3.60 4.60,0.3 Z M-5.15,0.3 Q-5.37,-3.00 -5.70,-6.00 Q-4.16,-3.00 -4.05,0.3 Z M-0.45,0.3 Q-0.79,-5.50 -1.40,-11.00 Q0.65,-5.50 0.85,0.3 Z" fill="url(#tuftG)"/></g>
</defs>
<rect x="1.5" y="5.0" width="1191.2" height="416.7" fill="url(#sky)"/>
<rect x="41" y="66.7" width="1113.5" height="300" fill="#fff6db"/>
<rect x="40.5" y="108.8" width="347.9" height="260" fill="#fcda6d"/>
<rect x="811.4" y="114.6" width="343.1" height="260" fill="#fcda6d"/>
<rect x="388.4" y="173.6" width="423.0" height="200" fill="#fde18f"/>
<use href="#treeSub" transform="translate(1039.7,20.2) scale(-1,1)"/>
<use href="#treeSub" transform="translate(1265.5,-42.7) scale(-1,1)"/>
<use href="#treeSub" transform="translate(1205.0,-28.6) scale(-1,1)"/>
<path d="M168,277.1 H1010" stroke="#c02033" stroke-width="3" stroke-linecap="round" stroke-dasharray="8.7 9.08" stroke-dashoffset="7.96" fill="none"/>
<use href="#treeMain" transform="translate(1039.7,20.2) scale(-1,1)"/>
<use href="#treeMain" transform="translate(1265.5,-42.7) scale(-1,1)"/>
<use href="#treeMain" transform="translate(1205.0,-28.6) scale(-1,1)"/>
<g stroke="#c02033" stroke-width="2.9" fill="none">
<path d="M40.6,68.9 V260"/>
<path d="M1154.5,68.8 V262"/>
<path d="M388.4,108 V345"/>
<path d="M811.4,110.9 V335"/>
<path d="M50,66.65 H1145"/>
<path d="M54,108.1 H380"/>
<path d="M821,111.55 H1145"/>
<path d="M396,172.7 H804"/>
</g>
<path d="M41.3,66.65 L53.70,61.20 L51.90,66.65 L53.70,72.10 Z" fill="#c02033"/>
<path d="M1153.2,66.7 L1140.80,61.25 L1142.60,66.7 L1140.80,72.15 Z" fill="#c02033"/>
<path d="M45.4,108.1 L57.80,102.65 L56.00,108.1 L57.80,113.55 Z" fill="#c02033"/>
<path d="M387.2,108.1 L374.80,102.65 L376.60,108.1 L374.80,113.55 Z" fill="#c02033"/>
<path d="M812.7,111.55 L825.10,106.10 L823.30,111.55 L825.10,117.00 Z" fill="#c02033"/>
<path d="M1153.2,111.55 L1140.80,106.10 L1142.60,111.55 L1140.80,117.00 Z" fill="#c02033"/>
<path d="M387.0,172.7 L399.40,167.25 L397.60,172.7 L399.40,178.15 Z" fill="#c02033"/>
<path d="M812.4,172.7 L800.00,167.25 L801.80,172.7 L800.00,178.15 Z" fill="#c02033"/>
<path d="M1.50,254.50 C4.58,254.37 13.58,253.87 20.00,253.70 C26.42,253.53 33.33,253.40 40.00,253.50 C46.67,253.60 54.17,253.97 60.00,254.30 C65.83,254.63 68.33,254.55 75.00,255.50 C81.67,256.45 91.67,258.33 100.00,260.00 C108.33,261.67 116.67,263.50 125.00,265.50 C133.33,267.50 141.67,269.38 150.00,272.00 C158.33,274.62 168.33,278.38 175.00,281.25 C181.67,284.12 185.83,287.07 190.00,289.20 C194.17,291.32 195.83,292.12 200.00,294.00 C204.17,295.88 210.00,298.42 215.00,300.50 C220.00,302.58 225.00,304.67 230.00,306.50 C235.00,308.33 240.00,310.15 245.00,311.50 C250.00,312.85 255.83,313.90 260.00,314.60 C264.17,315.30 266.17,315.63 270.00,315.70 C273.83,315.77 278.07,314.92 283.00,315.00 C287.93,315.08 293.77,315.23 299.60,316.20 C305.43,317.17 311.87,318.92 318.00,320.80 C324.13,322.68 330.27,325.25 336.40,327.50 C342.53,329.75 348.67,332.35 354.80,334.30 C360.93,336.25 367.67,337.92 373.20,339.20 C378.73,340.48 383.53,341.35 388.00,342.00 C392.47,342.65 394.67,342.77 400.00,343.10 C405.33,343.43 411.67,343.80 420.00,344.00 C428.33,344.20 441.67,344.20 450.00,344.30 C458.33,344.40 465.00,343.82 470.00,344.60 C475.00,345.38 478.33,348.27 480.00,349.00 L648,349 C649.17,348.27 652.83,345.77 655.00,344.60 C657.17,343.43 658.83,342.57 661.00,342.00 C663.17,341.43 661.50,341.28 668.00,341.20 C674.50,341.12 688.00,341.12 700.00,341.50 C712.00,341.88 727.50,343.15 740.00,343.50 C752.50,343.85 765.00,344.85 775.00,343.60 C785.00,342.35 791.67,338.48 800.00,336.00 C808.33,333.52 816.67,330.79 825.00,328.75 C833.33,326.71 841.67,325.12 850.00,323.75 C858.33,322.38 866.67,321.49 875.00,320.50 C883.33,319.51 891.67,319.55 900.00,317.80 C908.33,316.05 916.67,313.18 925.00,310.00 C933.33,306.82 941.67,302.29 950.00,298.75 C958.33,295.21 966.67,292.29 975.00,288.75 C983.33,285.21 991.67,280.83 1000.00,277.50 C1008.33,274.17 1016.67,271.25 1025.00,268.75 C1033.33,266.25 1041.67,264.38 1050.00,262.50 C1058.33,260.62 1066.67,258.83 1075.00,257.50 C1083.33,256.17 1091.67,255.21 1100.00,254.50 C1108.33,253.79 1116.67,253.25 1125.00,253.25 C1133.33,253.25 1141.67,253.58 1150.00,254.50 C1158.33,255.42 1167.88,257.33 1175.00,258.75 C1182.12,260.17 1189.75,262.29 1192.70,263.00 L1192.7,421.7 L1.5,421.7 Z" fill="url(#grass)"/>
<path d="M472.5,347.4 C478,347.6 484,347.5 489.4,347.3 C498,347.2 500,337.5 507.5,337.5 C515,337.5 519,347.2 527,347.2 C535,347.2 538,337.5 545.5,337.5 C553,337.5 557,347.2 565,347.2 C573,347.2 576,337.5 583.6,337.5 C591,337.5 595,347.2 603,347.2 C611,347.2 614,337.5 621.9,337.5 C629,337.5 633,347 641,347 C648,347 655,346.5 661,345.6 C640,378 605,393.6 565,393.6 C527,393.6 492,378 472.5,347.4 Z" fill="#3fb8db"/>
<use href="#reed" transform="translate(414.4,320.4)"/>
<use href="#reed" transform="translate(662.1,318.3)"/>
<use href="#reed" transform="translate(719.0,325.0)"/>
<use href="#tuft" transform="translate(405.9,344.3)"/>
<use href="#tuft" transform="translate(447,343.5)"/>
<use href="#tuft" transform="translate(465.9,344.6)"/>
<use href="#tuft" transform="translate(682.7,341)"/>
<use href="#tuft" transform="translate(711,345.4)"/>
<use href="#tuft" transform="translate(751.7,347.8)"/>
<use href="#tuft" transform="translate(770.8,349.5)"/>
<use href="#treeSub"/><use href="#treeMain"/>
<polygon points="190.1,288.9 208,253.4 256.3,253.4 243.1,288.9" fill="#82b1c5"/>
<rect x="240.7" y="242.4" width="8.8" height="11.5" fill="#82b1c5"/>
<rect x="190.1" y="288.9" width="53" height="37.2" fill="#006a8e"/>
<polygon points="243.1,288.9 256.3,253.4 270.1,281 270.1,318.6 243.1,326.1" fill="#002a47"/>
<g stroke="#c02033" stroke-width="2.9" fill="none"><path d="M202.4,340 V380 H220"/><path d="M724.6,356 V381 H812"/></g>
<circle cx="202.4" cy="339.7" r="5.5" fill="#c02033"/><circle cx="724.5" cy="355.6" r="5.5" fill="#c02033"/>
<g class="labels" fill="#fff" font-family="'DejaVu Sans', 'Liberation Sans', sans-serif">
<rect x="485.9" y="44.9" width="218.2" height="44" rx="17" ry="17" fill="#c02033"/>
<text x="534.83" y="73.9" font-size="23.4" textLength="120.27" lengthAdjust="spacingAndGlyphs">Floodplain</text>
<rect x="100.2" y="86.1" width="218.2" height="43.8" rx="17" ry="17" fill="#c02033"/>
<text x="112.67" y="116.69" font-size="23.4" textLength="193.52" lengthAdjust="spacingAndGlyphs">Floodway Fringe</text>
<rect x="867.6" y="89.5" width="218" height="43.8" rx="17" ry="17" fill="#c02033"/>
<text x="879.94" y="120.19" font-size="23.4" textLength="193.28" lengthAdjust="spacingAndGlyphs">Floodway Fringe</text>
<rect x="485.9" y="149.3" width="218.2" height="44" rx="17" ry="17" fill="#c02033"/>
<text x="539.85" y="179.75" font-size="23.4" textLength="109.9" lengthAdjust="spacingAndGlyphs">Floodway</text>
<rect x="441.9" y="256.3" width="311" height="43.75" rx="17" ry="17" fill="#c02033"/>
<text x="447.92" y="285.6" font-size="22.5" textLength="298.95" lengthAdjust="spacingAndGlyphs">Base Flood Elevation (BFE)</text>
<rect x="217.5" y="356" width="267.2" height="44" rx="17" ry="17" fill="#c02033"/>
<text x="237.87" y="385.9" font-size="23.4" textLength="226.55" lengthAdjust="spacingAndGlyphs">Building Below BFE</text>
<rect x="808" y="356" width="218.2" height="44" rx="17" ry="17" fill="#c02033"/>
<text x="863.33" y="386.75" font-size="23.4" textLength="107.89" lengthAdjust="spacingAndGlyphs">Wetlands</text>
</g>
</svg>
</body>
</html>
